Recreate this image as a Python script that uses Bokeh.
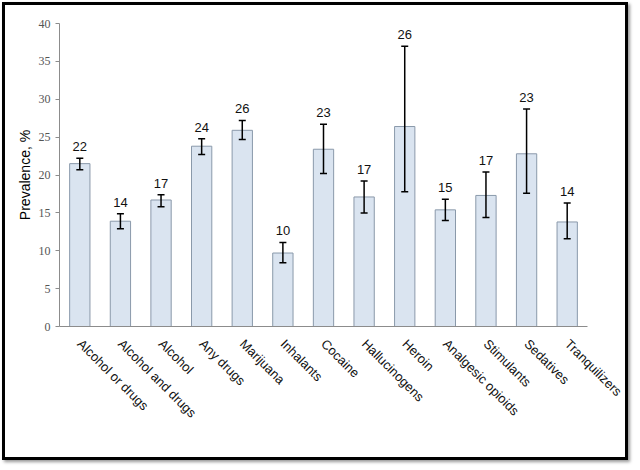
import math
from bokeh.plotting import figure
from bokeh.models import ColumnDataSource, Whisker, TeeHead, Range1d, FactorRange, SingleIntervalTicker
from bokeh.embed import file_html
from bokeh.resources import INLINE

categories = ["Alcohol or drugs", "Alcohol and drugs", "Alcohol", "Any drugs", "Marijuana",
              "Inhalants", "Cocaine", "Hallucinogens", "Heroin", "Analgesic opioids",
              "Stimulants", "Sedatives", "Tranquilizers"]
prevalence = [21.5, 13.9, 16.7, 23.8, 25.9, 9.7, 23.4, 17.1, 26.4, 15.4, 17.3, 22.8, 13.8]
ci_upper = [22.2, 14.9, 17.4, 24.8, 27.2, 11.1, 26.7, 19.2, 37.0, 16.8, 20.4, 28.7, 16.3]
ci_lower = [20.7, 12.9, 15.8, 22.7, 24.7, 8.4, 20.2, 15.0, 17.8, 14.0, 14.4, 17.6, 11.6]
labels = ["22", "14", "17", "24", "26", "10", "23", "17", "26", "15", "17", "23", "14"]

src = ColumnDataSource(dict(cat=categories, val=prevalence, upper=ci_upper,
                            lower=ci_lower, lab=labels))

p = figure(width=626, height=458, x_range=FactorRange(*categories), y_range=Range1d(0, 40),
           output_backend="svg", toolbar_location=None,
           min_border_left=54, min_border_right=44, min_border_top=18, min_border_bottom=137)
p.x_range.range_padding = 0
p.x_range.factor_padding = 0
p.styles = {"border": "3px solid black", "box-shadow": "2px 2px 3px #999",
            "margin-left": "2px", "margin-top": "2px"}

p.vbar(x="cat", top="val", width=0.5, source=src, fill_color="#dae4f0",
       line_color="#8a99aa", line_width=1)

w = Whisker(base="cat", upper="upper", lower="lower", source=src,
            line_color="black", line_width=1.5, level="overlay",
            upper_head=TeeHead(size=7, line_color="black", line_width=1.5),
            lower_head=TeeHead(size=7, line_color="black", line_width=1.5))
p.add_layout(w)

p.text(x="cat", y="upper", text="lab", source=src, text_align="center",
       text_baseline="bottom", y_offset=-7, text_font_size="13px",
       text_font={"value": "Liberation Sans"}, text_color="#111111")

p.grid.visible = False
p.outline_line_color = None

p.yaxis.ticker = SingleIntervalTicker(interval=5)
p.yaxis.minor_tick_line_color = None
p.yaxis.axis_line_color = "#8c8c8c"
p.yaxis.major_tick_line_color = "#8c8c8c"
p.yaxis.major_tick_out = 4
p.yaxis.major_tick_in = 0
p.yaxis.major_label_text_font = "Liberation Serif"
p.yaxis.major_label_text_font_size = "12px"
p.yaxis.major_label_text_color = "#555555"
p.yaxis.axis_label = "Prevalence, %"
p.yaxis.axis_label_text_font = "Liberation Sans"
p.yaxis.axis_label_text_font_style = "normal"
p.yaxis.axis_label_text_font_size = "14px"
p.yaxis.axis_label_text_color = "black"
p.yaxis.axis_label_standoff = 3

p.xaxis.axis_line_color = "#8c8c8c"
p.xaxis.major_tick_line_color = None
p.xaxis.minor_tick_line_color = None
p.xaxis.major_label_orientation = -math.pi / 4
p.xaxis.major_label_text_font = "Liberation Sans"
p.xaxis.major_label_text_font_size = "13px"
p.xaxis.major_label_text_color = "#111111"
p.xaxis.major_label_standoff = 9

open("out.html", "w").write(file_html(p, INLINE))
